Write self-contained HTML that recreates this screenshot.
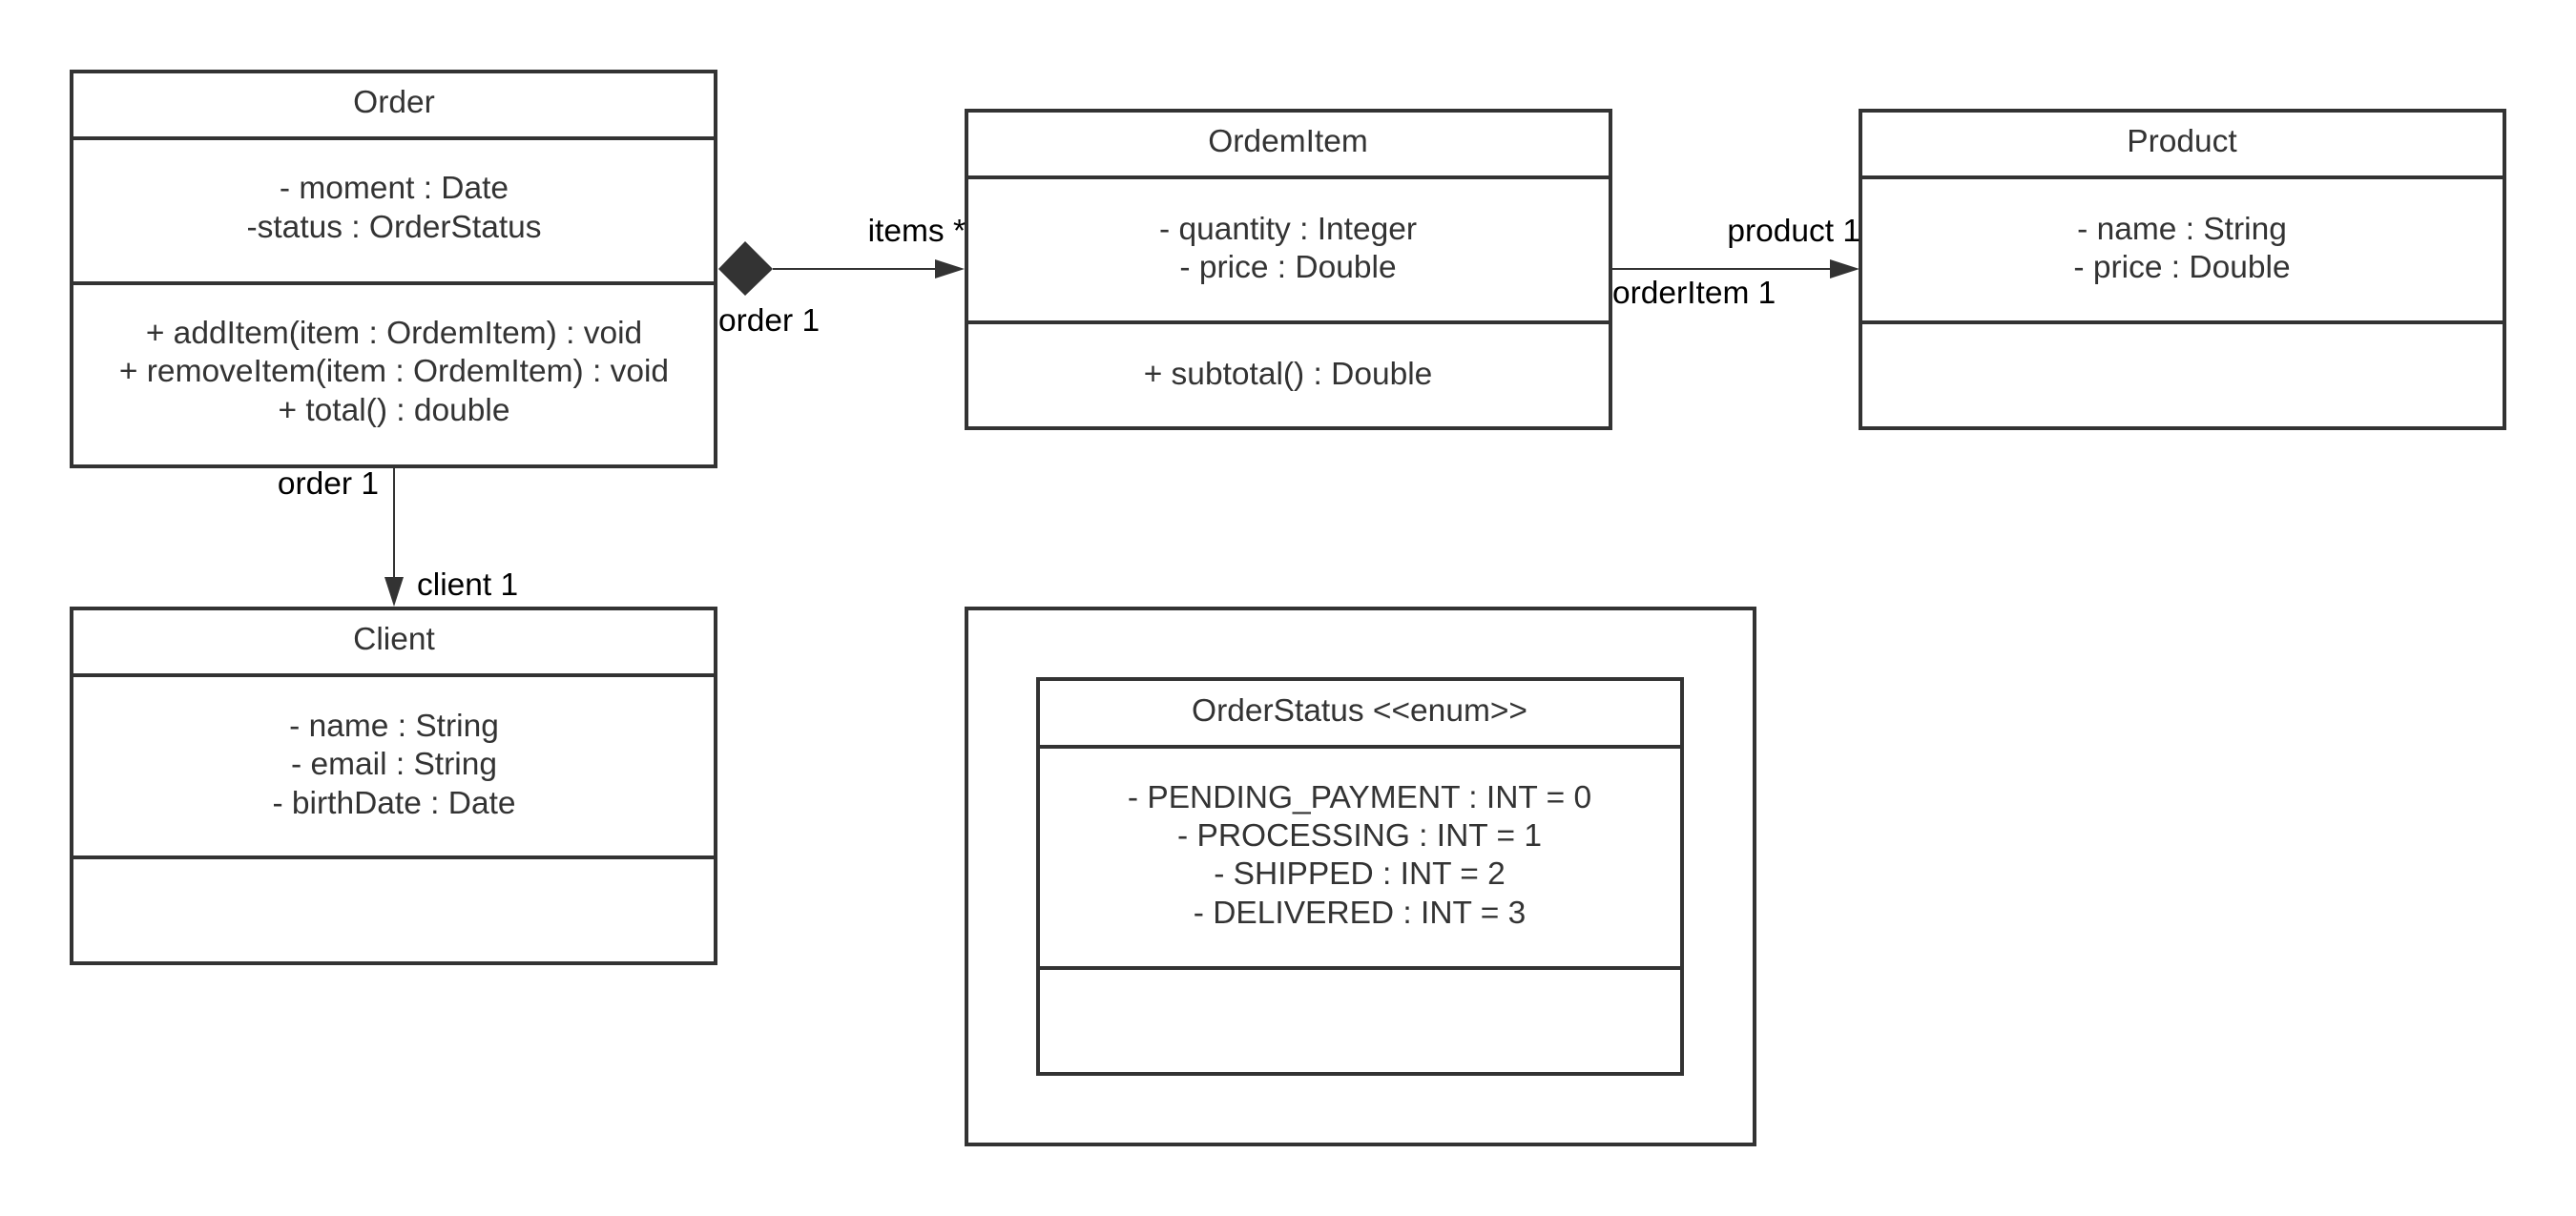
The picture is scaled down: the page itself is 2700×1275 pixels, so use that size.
<!DOCTYPE html>
<html><head><meta charset="utf-8"><style>
html,body{margin:0;padding:0;background:#fff;}
svg{display:block;}
text{font-family:"Liberation Sans",Arial,sans-serif;font-size:33.5px;fill:#333;}
.c{text-anchor:middle;}
.l{fill:#000;}
</style></head><body>
<svg width="2700" height="1275" viewBox="0 0 2700 1275" xmlns="http://www.w3.org/2000/svg">
<g fill="none" stroke="#333" stroke-width="4">
<rect x="75" y="75" width="675" height="414"/>
<line x1="75" y1="145" x2="750" y2="145"/>
<line x1="75" y1="297" x2="750" y2="297"/>
<rect x="1013" y="116" width="675" height="333"/>
<line x1="1013" y1="186" x2="1688" y2="186"/>
<line x1="1013" y1="338" x2="1688" y2="338"/>
<rect x="1950" y="116" width="675" height="333"/>
<line x1="1950" y1="186" x2="2625" y2="186"/>
<line x1="1950" y1="338" x2="2625" y2="338"/>
<rect x="75" y="638" width="675" height="372"/>
<line x1="75" y1="708" x2="750" y2="708"/>
<line x1="75" y1="899" x2="750" y2="899"/>
<rect x="1013" y="638" width="826" height="562"/>
<rect x="1088" y="712" width="675" height="414"/>
<line x1="1088" y1="783" x2="1763" y2="783"/>
<line x1="1088" y1="1015" x2="1763" y2="1015"/>
</g>
<g stroke="#333" stroke-width="2" fill="#333">
<line x1="810" y1="282" x2="985" y2="282"/>
<polygon points="753,282 781,253 810,282 781,310" stroke="none"/>
<polygon points="980,272 1011,282 980,292" stroke="none"/>
<line x1="1688" y1="282" x2="1920" y2="282"/>
<polygon points="1918,272 1949,282 1918,292" stroke="none"/>
<line x1="413" y1="489" x2="413" y2="610"/>
<polygon points="403,605 413,636 423,605" stroke="none"/>
</g>
<text class="c" x="413" y="118">Order</text>
<text class="c" x="413" y="208">- moment : Date</text>
<text class="c" x="413" y="249">-status : OrderStatus</text>
<text class="c" x="413" y="360">+ addItem(item : OrdemItem) : void</text>
<text class="c" x="413" y="400">+ removeItem(item : OrdemItem) : void</text>
<text class="c" x="413" y="441">+ total() : double</text>
<text class="c" x="1350" y="159">OrdemItem</text>
<text class="c" x="1350" y="251">- quantity : Integer</text>
<text class="c" x="1350" y="291">- price : Double</text>
<text class="c" x="1350" y="403">+ subtotal() : Double</text>
<text class="c" x="2287" y="159">Product</text>
<text class="c" x="2287" y="251">- name : String</text>
<text class="c" x="2287" y="291">- price : Double</text>
<text class="c" x="413" y="681">Client</text>
<text class="c" x="413" y="772">- name : String</text>
<text class="c" x="413" y="812">- email : String</text>
<text class="c" x="413" y="853">- birthDate : Date</text>
<text class="c" x="1425" y="756">OrderStatus &lt;&lt;enum&gt;&gt;</text>
<text class="c" x="1425" y="847">- PENDING_PAYMENT : INT = 0</text>
<text class="c" x="1425" y="887">- PROCESSING : INT = 1</text>
<text class="c" x="1425" y="927">- SHIPPED : INT = 2</text>
<text class="c" x="1425" y="968">- DELIVERED : INT = 3</text>
<text class="l" x="1012" y="253" text-anchor="end">items *</text>
<text class="l" x="753" y="347">order 1</text>
<text class="l" x="1950" y="253" text-anchor="end">product 1</text>
<text class="l" x="1690" y="318">orderItem 1</text>
<text class="l" x="397" y="518" text-anchor="end">order 1</text>
<text class="l" x="437" y="624">client 1</text>
</svg>
</body></html>
